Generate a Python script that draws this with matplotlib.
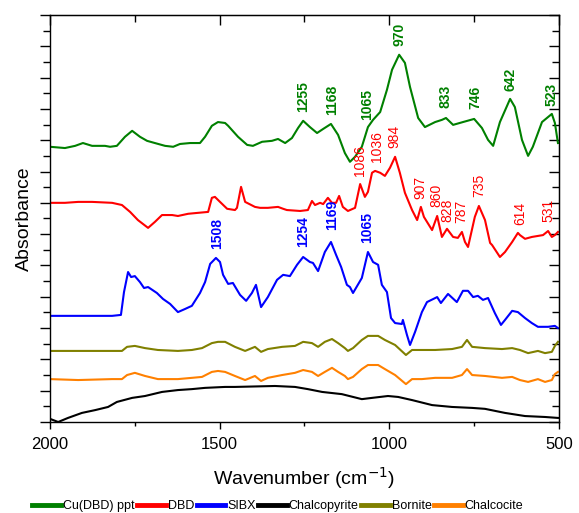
import matplotlib
matplotlib.use("Agg")
import matplotlib.pyplot as plt

plt.rcParams['font.family'] = ['Liberation Sans', 'DejaVu Sans']

# stacked FTIR spectra, offsets already included in the absorbance values
green_wn = [2000, 1956, 1926, 1903, 1876, 1838, 1823, 1803, 1779, 1758, 1735, 1714, 1691, 1661, 1637,
            1617, 1587, 1558, 1543, 1523, 1505, 1484, 1475, 1446, 1419, 1402, 1375, 1346, 1328, 1307,
            1287, 1269, 1254, 1234, 1213, 1195, 1172, 1151, 1131, 1116, 1101, 1081, 1063, 1048, 1027,
            1007, 992, 971, 954, 939, 915, 895, 865, 845, 833, 812, 783, 750, 727, 709,
            694, 674, 644, 630, 609, 591, 577, 550, 521, 512, 503]
green_abs = [8.79, 8.75, 8.82, 8.91, 8.82, 8.82, 8.79, 8.82, 9.11, 9.30, 9.11, 8.98, 8.91, 8.82, 8.79,
             8.88, 8.91, 8.91, 9.11, 9.46, 9.58, 9.55, 9.46, 9.11, 8.85, 8.82, 8.95, 8.98, 9.04, 8.91,
             9.07, 9.39, 9.62, 9.42, 9.23, 9.36, 9.52, 9.17, 8.59, 8.31, 8.47, 8.79, 9.42, 9.65, 9.90,
             10.61, 11.25, 11.73, 11.47, 10.70, 9.71, 9.42, 9.58, 9.65, 9.71, 9.49, 9.58, 9.68, 9.39, 9.01,
             8.82, 9.58, 10.32, 10.06, 9.01, 8.50, 8.79, 9.58, 9.84, 9.55, 8.91]

red_wn = [2000, 1956, 1917, 1876, 1817, 1788, 1764, 1741, 1711, 1691, 1670, 1640, 1623, 1593, 1564,
          1534, 1523, 1514, 1499, 1478, 1455, 1449, 1437, 1425, 1396, 1381, 1358, 1328, 1313, 1302,
          1263, 1240, 1228, 1219, 1204, 1195, 1181, 1169, 1157, 1148, 1137, 1122, 1101, 1086, 1072,
          1063, 1051, 1042, 1027, 1013, 998, 983, 969, 954, 933, 918, 907, 898, 874, 859,
          845, 830, 812, 798, 786, 777, 768, 748, 736, 718, 703, 697, 674, 659, 638,
          621, 615, 600, 580, 547, 532, 521, 512, 503]
red_abs = [7.00, 7.00, 7.03, 7.03, 7.00, 6.93, 6.71, 6.45, 6.20, 6.39, 6.61, 6.61, 6.58, 6.65, 6.68,
           6.71, 7.16, 7.19, 7.03, 6.81, 6.77, 6.84, 7.51, 7.03, 6.87, 6.84, 6.84, 6.87, 6.81, 6.77,
           6.74, 6.77, 7.06, 6.93, 7.00, 6.96, 7.16, 7.00, 7.00, 7.22, 6.87, 6.74, 6.84, 7.60, 7.19,
           7.35, 7.96, 8.02, 7.96, 7.86, 8.12, 8.47, 7.96, 7.32, 6.77, 6.45, 6.87, 6.55, 6.13, 6.58,
           5.91, 6.17, 5.91, 5.88, 6.07, 5.75, 5.59, 6.55, 6.90, 6.45, 5.72, 5.65, 5.27, 5.43, 5.75,
           6.04, 5.97, 5.85, 5.91, 5.97, 6.10, 5.91, 5.97, 6.07]

blue_wn = [2000, 1917, 1817, 1791, 1782, 1770, 1761, 1750, 1735, 1723, 1711, 1685, 1667, 1646, 1623,
           1602, 1582, 1558, 1543, 1528, 1511, 1499, 1490, 1475, 1461, 1440, 1422, 1405, 1393, 1378,
           1358, 1331, 1313, 1293, 1272, 1254, 1234, 1225, 1210, 1190, 1172, 1157, 1142, 1125, 1116,
           1107, 1081, 1063, 1048, 1033, 1022, 1007, 995, 983, 963, 960, 948, 939, 924, 904,
           889, 859, 848, 827, 801, 783, 768, 753, 739, 724, 709, 689, 671, 659, 638,
           621, 600, 580, 562, 532, 512, 503]
blue_abs = [3.39, 3.39, 3.39, 3.42, 4.15, 4.79, 4.63, 4.66, 4.47, 4.28, 4.31, 4.12, 3.93, 3.77, 3.51,
            3.61, 3.71, 4.12, 4.47, 5.05, 5.24, 5.11, 4.70, 4.41, 4.44, 4.06, 3.87, 4.12, 4.38, 3.67,
            3.99, 4.54, 4.70, 4.66, 5.02, 5.27, 5.11, 5.08, 4.82, 5.43, 5.75, 5.34, 4.95, 4.38, 4.31,
            4.12, 4.60, 5.43, 5.11, 5.02, 4.38, 4.15, 3.32, 3.16, 3.13, 3.26, 2.78, 2.46, 2.88, 3.51,
            3.83, 3.99, 3.80, 4.09, 3.83, 4.19, 4.19, 3.99, 4.03, 3.90, 3.96, 3.48, 3.10, 3.26, 3.55,
            3.51, 3.32, 3.16, 3.04, 3.04, 3.07, 3.00]

bornite_wn = [2000, 1917, 1817, 1788, 1773, 1750, 1720, 1682, 1623, 1582, 1552, 1523, 1505, 1484, 1455,
              1425, 1396, 1378, 1358, 1316, 1278, 1254, 1228, 1210, 1190, 1169, 1151, 1131, 1122, 1107,
              1081, 1063, 1033, 1013, 983, 951, 933, 904, 865, 815, 786, 771, 756, 718, 668,
              638, 615, 591, 562, 541, 521, 512, 503]
bornite_abs = [2.27, 2.27, 2.27, 2.27, 2.40, 2.43, 2.36, 2.30, 2.27, 2.30, 2.36, 2.52, 2.56, 2.56, 2.40,
               2.27, 2.40, 2.24, 2.33, 2.40, 2.43, 2.56, 2.52, 2.40, 2.56, 2.65, 2.52, 2.36, 2.27, 2.36,
               2.62, 2.75, 2.75, 2.62, 2.46, 2.14, 2.30, 2.30, 2.30, 2.33, 2.40, 2.62, 2.40, 2.36, 2.33,
               2.36, 2.30, 2.20, 2.27, 2.20, 2.24, 2.43, 2.56]

chalcocite_wn = bornite_wn
chalcocite_abs = [1.37, 1.34, 1.37, 1.37, 1.50, 1.57, 1.47, 1.37, 1.37, 1.41, 1.44, 1.60, 1.63, 1.60, 1.47,
                  1.34, 1.47, 1.31, 1.41, 1.50, 1.57, 1.66, 1.60, 1.47, 1.60, 1.73, 1.60, 1.47, 1.37, 1.44,
                  1.69, 1.82, 1.82, 1.69, 1.50, 1.21, 1.37, 1.37, 1.41, 1.41, 1.50, 1.69, 1.50, 1.47, 1.41,
                  1.44, 1.34, 1.28, 1.37, 1.28, 1.34, 1.53, 1.60]

chalcopyrite_wn = [2000, 1976, 1947, 1906, 1867, 1829, 1803, 1758, 1720, 1670, 1623, 1582, 1543, 1484, 1455,
                   1337, 1278, 1240, 1198, 1140, 1081, 1051, 1004, 974, 933, 874, 815, 756, 718, 659,
                   600, 541, 503]
chalcopyrite_abs = [0.10, 0.00, 0.13, 0.29, 0.38, 0.48, 0.64, 0.77, 0.83, 0.96, 1.02, 1.05, 1.09, 1.12, 1.12,
                    1.15, 1.12, 1.05, 0.96, 0.89, 0.73, 0.77, 0.83, 0.80, 0.70, 0.54, 0.48, 0.45, 0.42, 0.29,
                    0.19, 0.16, 0.13]

# band labels: wavenumber and height of the label's lower end
green_bands = [1255, 1168, 1065, 970, 833, 746, 642, 523]
green_band_y = [9.90, 9.81, 9.65, 12.01, 10.03, 10.00, 10.58, 10.10]
red_bands = [1086, 1036, 984, 907, 860, 828, 787, 735, 614, 531]
red_band_y = [7.86, 8.31, 8.75, 7.12, 6.87, 6.39, 6.36, 7.19, 6.29, 6.39]
blue_bands = [1508, 1254, 1169, 1065]
blue_band_y = [5.53, 5.59, 6.13, 5.72]

c_green = '#008000'
c_red = '#ff0000'
c_blue = '#0000ff'
c_olive = '#808000'
c_orange = '#ff8000'

fig = plt.figure(figsize=(5.79, 5.13), dpi=100)
ax = fig.add_axes([0.0864, 0.1774, 0.879, 0.7934])

lw = 1.5
ax.plot(green_wn, green_abs, color=c_green, lw=lw, label='Cu(DBD) ppt')
ax.plot(red_wn, red_abs, color=c_red, lw=lw, label='DBD')
ax.plot(blue_wn, blue_abs, color=c_blue, lw=lw, label='SIBX')
ax.plot(chalcopyrite_wn, chalcopyrite_abs, color='black', lw=lw, label='Chalcopyrite')
ax.plot(bornite_wn, bornite_abs, color=c_olive, lw=lw, label='Bornite')
ax.plot(chalcocite_wn, chalcocite_abs, color=c_orange, lw=lw, label='Chalcocite')

for bands, ys, col, wt in [(green_bands, green_band_y, c_green, 'bold'),
                           (red_bands, red_band_y, c_red, 'normal'),
                           (blue_bands, blue_band_y, c_blue, 'bold')]:
    for wn, y in zip(bands, ys):
        ax.text(wn, y, str(wn), color=col, rotation=90, ha='center', va='bottom',
                fontsize=10, fontweight=wt)

ax.set_xlim(2000, 500)
ax.set_ylim(0, 13)
ax.set_xticks([2000, 1500, 1000, 500])
ax.set_xticks([1750, 1250, 750], minor=True)
ax.set_yticks(range(0, 14))
ax.set_yticks([i + 0.5 for i in range(13)], minor=True)
ax.set_yticklabels([])
ax.tick_params(axis='x', which='major', direction='out', length=5, width=1, labelsize=12, pad=6)
ax.tick_params(axis='x', which='minor', direction='out', length=3, width=1)
ax.tick_params(axis='y', which='major', direction='out', length=7, width=1)
ax.tick_params(axis='y', which='minor', direction='out', length=5, width=1)
for s in ax.spines.values():
    s.set_linewidth(1.0)

# mirrored ticks on top and right point inward
top = ax.secondary_xaxis('top')
top.set_xticks([2000, 1500, 1000, 500])
top.set_xticks([1750, 1250, 750], minor=True)
top.tick_params(which='major', direction='in', length=7, width=1, labeltop=False)
top.tick_params(which='minor', direction='in', length=5, width=1)
right = ax.secondary_yaxis('right')
right.set_yticks(range(0, 14))
right.set_yticks([i + 0.5 for i in range(13)], minor=True)
right.tick_params(which='major', direction='in', length=7, width=1, labelright=False)
right.tick_params(which='minor', direction='in', length=5, width=1)

ax.set_xlabel('Wavenumber (cm$^{-1}$)', fontsize=14, labelpad=9)
ax.set_ylabel('Absorbance', fontsize=14, labelpad=2)

leg = fig.legend(loc='center', bbox_to_anchor=(0.48, 0.013), ncol=6, frameon=False, fontsize=9,
                 handlelength=2.3, handletextpad=0.15, columnspacing=0.2, borderpad=0)
for line in leg.get_lines():
    line.set_linewidth(3.5)

fig.savefig('out.png', dpi=100)
